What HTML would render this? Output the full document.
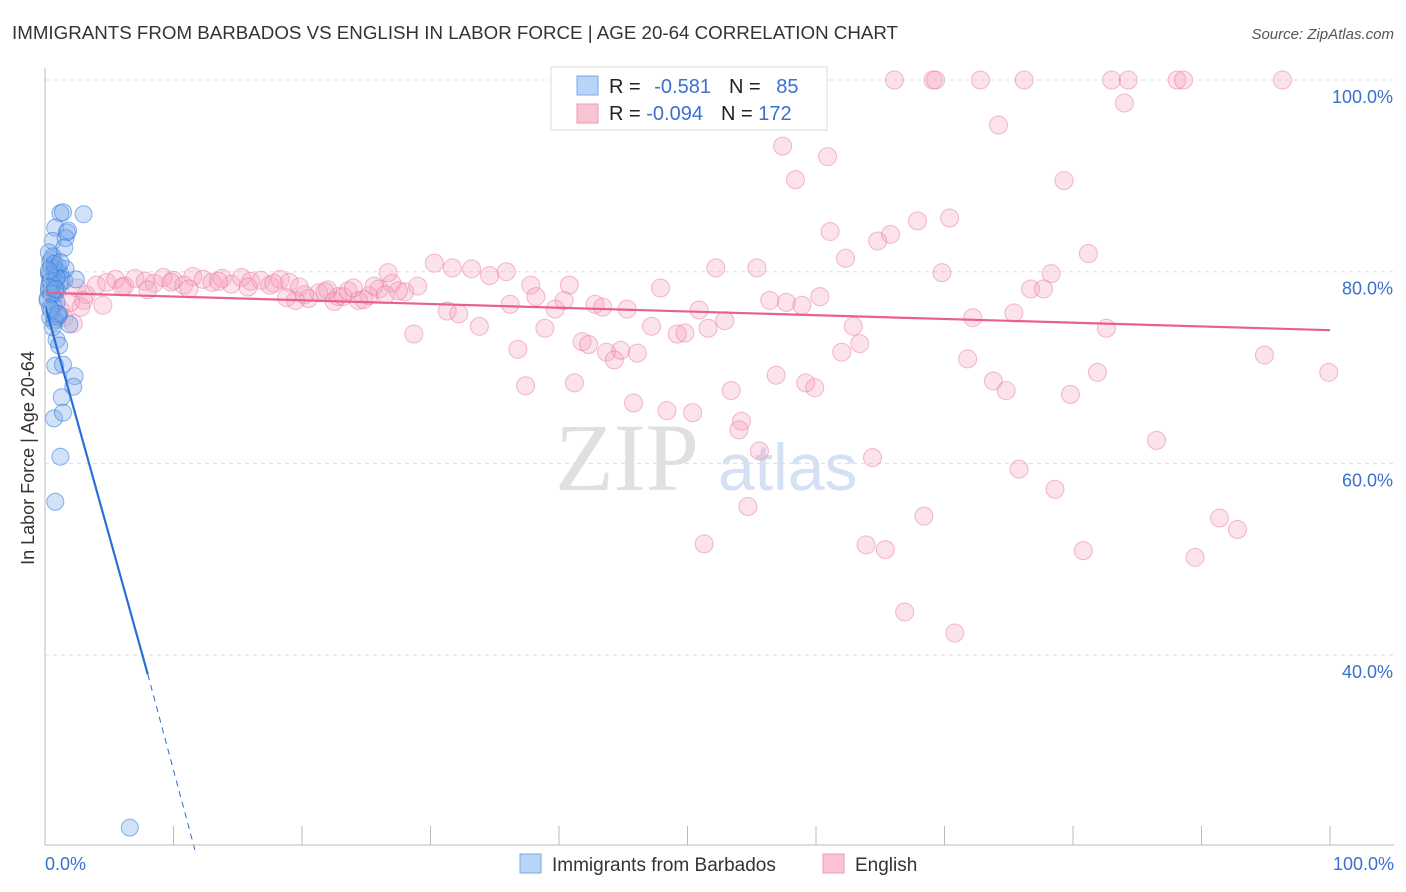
<!DOCTYPE html>
<html><head><meta charset="utf-8">
<style>
body{margin:0;background:#fff;font-family:"Liberation Sans",sans-serif;}
#wrap{position:relative;width:1406px;height:892px;overflow:hidden;}
</style></head>
<body>
<div id="wrap">
<svg id="svg" width="1406" height="892" xmlns="http://www.w3.org/2000/svg">
<text x="12" y="39" font-size="18" fill="#333" textLength="886" lengthAdjust="spacingAndGlyphs">IMMIGRANTS FROM BARBADOS VS ENGLISH IN LABOR FORCE | AGE 20-64 CORRELATION CHART</text>
<text x="1394" y="39" font-size="15" fill="#555" font-style="italic" text-anchor="end">Source: ZipAtlas.com</text>
<text x="34" y="458" font-size="18" fill="#333" text-anchor="middle" transform="rotate(-90 34 458)">In Labor Force | Age 20-64</text>
<text x="555" y="490" font-size="96" fill="#e0e0e0" font-family="Liberation Serif,serif">ZIP</text>
<text x="718" y="490" font-size="66" fill="#d4e1f2">atlas</text>
<g id="grid"></g><g id="pink"></g><g id="blue"></g><g id="lines"></g><g id="axes"></g>
<g>
<rect x="551" y="67" width="276" height="63" fill="#fff" stroke="#ddd"/>
<rect x="577" y="76" width="21" height="19" fill="#b8d4f6" stroke="#7aa8e6"/>
<rect x="577" y="104" width="21" height="19" fill="#f9c4d2" stroke="#ee9ab3"/>
<text x="609" y="93" font-size="20" fill="#222">R = <tspan fill="#3a70d0" dx="8">-0.581</tspan><tspan fill="#222" dx="18">N = </tspan><tspan fill="#3a70d0" dx="10">85</tspan></text>
<text x="609" y="120" font-size="20" fill="#222">R = <tspan fill="#3a70d0">-0.094</tspan><tspan fill="#222" dx="18">N = </tspan><tspan fill="#3a70d0">172</tspan></text>
</g>
<g>
<rect x="520" y="854" width="21" height="19" fill="#b8d4f6" stroke="#7aa8e6"/>
<text x="552" y="871" font-size="19" fill="#333">Immigrants from Barbados</text>
<rect x="823" y="854" width="21" height="19" fill="#f9c4d2" stroke="#ee9ab3"/>
<text x="855" y="871" font-size="19" fill="#333">English</text>
</g>
</svg>
</div>
<script>
const yTicks=[100,80,60,40];
const yTickLabels=["100.0%","80.0%","60.0%","40.0%"];
const blueX=[1.2,1.4,3.0,0.8,1.7,1.6,1.8,0.6,1.5,0.6,0.4,0.5,0.8,1.0,0.3,0.6,1.2,0.9,0.4,0.7,1.1,0.5,0.3,0.8,1.3,0.6,0.2,0.9,1.0,0.4,0.7,1.5,0.5,0.3,2.4,0.9,0.6,1.1,0.4,0.8,0.2,0.7,1.0,0.5,1.9,0.9,1.1,0.8,1.4,2.3,2.2,1.3,0.7,1.4,1.2,0.8,6.6,0.6,0.4,1.6,0.9,0.3,0.7,1.2,0.5,0.8,0.4,1.0,0.6,0.3];
const blueY=[86.1,86.2,86.0,84.6,84.1,83.5,84.3,83.2,82.5,81.6,81.0,80.5,80.2,80.0,79.8,79.5,79.8,79.3,79.0,78.8,78.5,78.3,78.0,77.8,79.2,77.5,77.2,78.1,80.6,79.6,79.9,79.1,81.3,82.0,79.2,76.8,76.5,75.5,75.2,75.0,77.0,74.8,75.3,76.0,74.5,72.9,72.3,70.2,70.3,69.1,68.0,66.9,64.7,65.3,60.7,56.0,22.0,78.6,78.9,80.3,79.4,78.4,80.8,81.0,77.7,78.2,76.2,75.6,74.2,80.1];
const pinkX=[66.1,69.1,69.3,72.8,76.2,83.0,84.3,88.1,88.6,96.3,84.0,74.2,57.4,60.9,58.4,79.3,70.4,67.9,61.1,65.8,64.8,81.2,62.3,30.3,55.4,52.2,33.2,31.7,78.3,69.8,35.9,34.6,26.7,37.8,40.8,47.9,76.7,77.7,60.3,56.4,57.7,58.9,38.2,40.4,36.2,42.8,43.4,45.3,31.3,32.2,39.7,50.9,72.2,75.4,52.9,33.8,38.9,47.2,51.6,62.9,82.6,28.7,49.2,49.8,41.8,42.3,63.4,36.8,43.7,44.8,44.3,46.1,62.0,71.8,94.9,99.9,81.9,56.9,73.8,59.2,37.4,41.2,59.9,53.4,74.8,79.8,45.8,48.4,50.4,54.2,54.0,86.5,55.6,64.4,75.8,78.6,54.7,68.4,91.4,92.8,51.3,63.9,65.4,80.8,89.5,66.9,70.8,
2.5,3.2,4.0,4.8,5.5,6.2,7.0,7.8,8.5,9.2,10.0,10.8,11.5,12.3,13.0,13.8,14.5,15.3,16.0,16.8,17.5,18.3,19.0,19.8,20.5,21.3,22.0,22.8,23.6,24.4,25.2,26.0,27.0,28.0,29.0,2.0,3.0,4.5,6.0,8.0,9.8,11.2,13.5,15.8,17.8,18.8,19.5,20.2,21.8,22.5,23.2,24.0,24.8,25.6,26.5,27.5,1.5,2.2,1.2,2.8];
const pinkY=[100,100,100,100,100,100,100,100,100,100,97.6,95.3,93.1,92.0,89.6,89.5,85.6,85.3,84.2,83.9,83.2,81.9,81.4,80.9,80.4,80.4,80.3,80.4,79.8,79.9,80.0,79.6,79.9,78.6,78.6,78.3,78.2,78.2,77.4,77.0,76.8,76.5,77.4,77.0,76.6,76.6,76.3,76.1,75.9,75.6,76.1,76.0,75.2,75.7,74.9,74.3,74.1,74.3,74.1,74.3,74.1,73.5,73.5,73.6,72.7,72.4,72.5,71.9,71.6,71.8,70.8,71.5,71.6,70.9,71.3,69.5,69.5,69.2,68.6,68.4,68.1,68.4,67.9,67.6,67.6,67.2,66.3,65.5,65.3,64.4,63.5,62.4,61.3,60.6,59.4,57.3,55.5,54.5,54.3,53.1,51.6,51.5,51.0,50.9,50.2,44.5,42.3,
78.3,77.6,78.6,78.9,79.2,78.5,79.3,79.0,78.8,79.4,79.1,78.6,79.5,79.2,78.9,79.3,78.7,79.4,79.0,79.1,78.6,79.2,78.9,78.4,77.2,77.8,78.1,77.4,78.0,77.0,77.5,78.2,78.8,77.9,78.5,76.8,77.0,76.5,78.4,78.1,78.9,78.2,79.0,78.4,78.8,77.3,77.0,77.6,77.9,76.9,77.4,78.3,77.1,78.5,77.6,78.0,75.2,74.6,76.0,76.3];
const blueLine=[0,76.5,8.0,38.0,11.7,19.5];
const pinkLine=[0,77.8,100,73.9];
const xTicksPct=[0,10,20,30,40,50,60,70,80,90,100];
const NS='http://www.w3.org/2000/svg';
function xs(v){return 45+v*12.85;}
function ys(v){return 80+(100-v)*9.585;}
function mk(tag,attrs,parent){const e=document.createElementNS(NS,tag);for(const k in attrs)e.setAttribute(k,attrs[k]);document.getElementById(parent).appendChild(e);return e;}
yTicks.forEach((t,i)=>{
 const g=mk('line',{x1:45,x2:1394,y1:ys(t),y2:ys(t),stroke:'#ddd','stroke-dasharray':'4,4'},'grid');
 
 
 const l=mk('text',{x:1393,y:ys(t)+23,'font-size':18,fill:'#3a70d0','text-anchor':'end'},'axes');
 l.textContent=yTickLabels[i];
 
 
});
const ax=mk('line',{x1:45,x2:1394,y1:845,y2:845,stroke:'#bbb'},'axes');


const ay=mk('line',{x1:45,x2:45,y1:68,y2:845,stroke:'#bbb'},'axes');


xTicksPct.forEach(t=>{
 const tk=mk('line',{x1:xs(t),x2:xs(t),y1:826,y2:845,stroke:'#bbb'},'axes');
 
 
});
[[0,'0.0%','start',45],[100,'100.0%','end',1394]].forEach(a=>{
 const t=mk('text',{x:a[3],y:870,'font-size':18,fill:'#3a70d0','text-anchor':a[2]},'axes');
 t.textContent=a[1];
 
 
});
pinkX.forEach((x,i)=>{
 const c=mk('circle',{cx:xs(x),cy:ys(pinkY[i]),r:9,fill:'rgba(244,160,188,0.3)',stroke:'rgba(232,120,158,0.5)','stroke-width':1},'pink');
 
 
});
blueX.forEach((x,i)=>{
 const c=mk('circle',{cx:xs(x),cy:ys(blueY[i]),r:8.5,fill:'rgba(120,170,235,0.35)',stroke:'rgba(50,120,220,0.55)','stroke-width':1},'blue');
 
 
});
const bl=mk('line',{x1:xs(blueLine[0]),y1:ys(blueLine[1]),x2:xs(blueLine[2]),y2:ys(blueLine[3]),stroke:'#2a6fd6','stroke-width':2.2},'lines');


const bd=mk('line',{x1:xs(blueLine[2]),y1:ys(blueLine[3]),x2:xs(blueLine[4]),y2:ys(blueLine[5]),stroke:'#2a6fd6','stroke-width':1,'stroke-dasharray':'6,5'},'lines');


const pl=mk('line',{x1:xs(pinkLine[0]),y1:ys(pinkLine[1]),x2:xs(pinkLine[2]),y2:ys(pinkLine[3]),stroke:'#e8608c','stroke-width':2.2},'lines');


</script>
</body></html>
